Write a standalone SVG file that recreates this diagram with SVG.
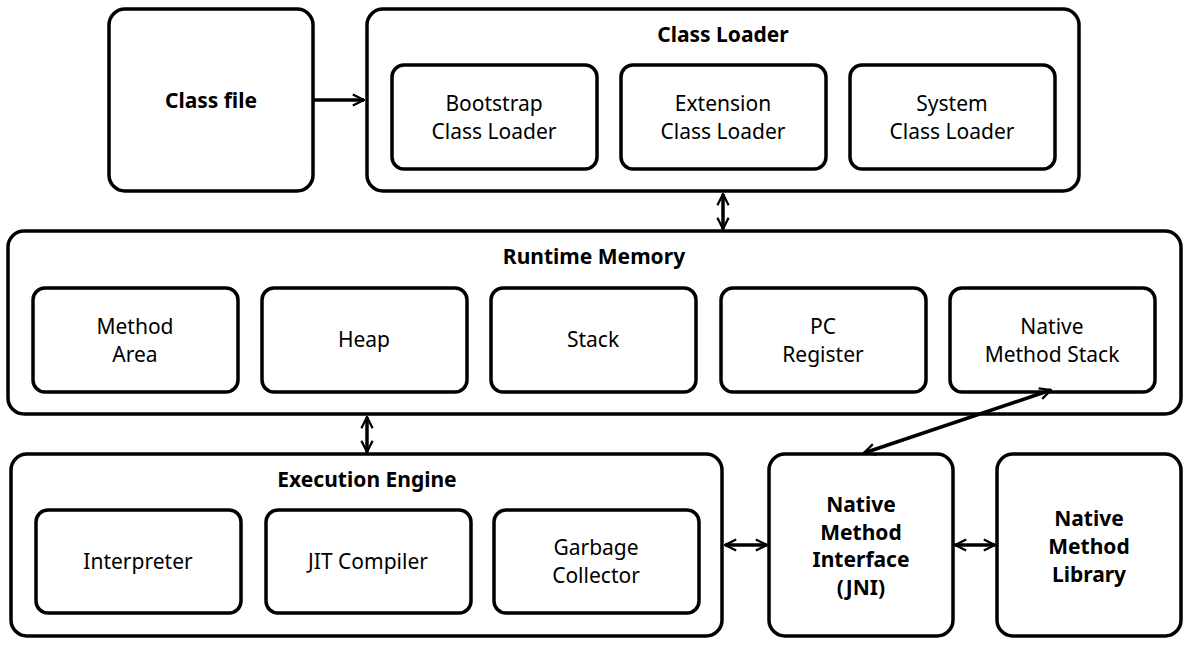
<svg xmlns="http://www.w3.org/2000/svg" width="1191" height="648" viewBox="0 0 1191 648">
<style>
.b{fill:#fff;stroke:#000;stroke-width:3.5}
text{font-family:"Noto Sans","Liberation Sans",sans-serif;font-size:21px;text-anchor:middle;fill:#000}
.t{font-weight:bold}
.c{fill:none;stroke:#000;stroke-width:3.5}
</style>
<defs>
<marker id="a" viewBox="0 0 10 10" refX="9" refY="5" markerWidth="4" markerHeight="4" orient="auto-start-reverse" markerUnits="strokeWidth">
<path d="M1,1 L9,5 L1,9" fill="none" stroke="#000" stroke-width="1.6"/>
</marker>
</defs>
<rect width="1191" height="648" fill="#fff"/>
<g id="classfile"><rect class="b" x="109" y="9" width="204" height="182" rx="16"/><text class="t" x="211" y="108">Class file</text></g>
<g id="classloader"><rect class="b" x="367" y="9" width="712" height="182" rx="16"/><text class="t" x="723" y="42">Class Loader</text>
<g id="bootstrap"><rect class="b" x="392" y="65" width="205" height="104" rx="12"/><text x="494" y="111">Bootstrap</text><text x="494" y="139">Class Loader</text></g>
<g id="extension"><rect class="b" x="621" y="65" width="205" height="104" rx="12"/><text x="723" y="111">Extension</text><text x="723" y="139">Class Loader</text></g>
<g id="system"><rect class="b" x="850" y="65" width="205" height="104" rx="12"/><text x="952" y="111">System</text><text x="952" y="139">Class Loader</text></g>
</g>
<g id="runtime"><rect class="b" x="8" y="231" width="1173" height="183" rx="16"/><text class="t" x="594" y="264">Runtime Memory</text>
<g id="method"><rect class="b" x="33" y="288" width="205" height="104" rx="12"/><text x="135" y="334">Method</text><text x="135" y="362">Area</text></g>
<g id="heap"><rect class="b" x="262" y="288" width="205" height="104" rx="12"/><text x="364" y="347">Heap</text></g>
<g id="stack"><rect class="b" x="491" y="288" width="205" height="104" rx="12"/><text x="593" y="347">Stack</text></g>
<g id="pc"><rect class="b" x="721" y="288" width="205" height="104" rx="12"/><text x="823" y="334">PC</text><text x="823" y="362">Register</text></g>
<g id="nms"><rect class="b" x="950" y="288" width="205" height="104" rx="12"/><text x="1052" y="334">Native</text><text x="1052" y="362">Method Stack</text></g>
</g>
<g id="exec"><rect class="b" x="11" y="454" width="711" height="182" rx="16"/><text class="t" x="367" y="487">Execution Engine</text>
<g id="interp"><rect class="b" x="36" y="510" width="205" height="103" rx="12"/><text x="138" y="569">Interpreter</text></g>
<g id="jit"><rect class="b" x="266" y="510" width="205" height="103" rx="12"/><text x="368" y="569">JIT Compiler</text></g>
<g id="gc"><rect class="b" x="494" y="510" width="205" height="103" rx="12"/><text x="596" y="555">Garbage</text><text x="596" y="583">Collector</text></g>
</g>
<g id="jni"><rect class="b" x="769" y="454" width="184" height="182" rx="16"/><text class="t" x="861" y="512">Native</text><text class="t" x="861" y="540">Method</text><text class="t" x="861" y="567">Interface</text><text class="t" x="861" y="595">(JNI)</text></g>
<g id="lib"><rect class="b" x="997" y="454" width="184" height="182" rx="16"/><text class="t" x="1089" y="526">Native</text><text class="t" x="1089" y="554">Method</text><text class="t" x="1089" y="582">Library</text></g>
<g id="connectors" class="c">
<line x1="313" y1="100" x2="364" y2="100" marker-end="url(#a)"/>
<line x1="723" y1="194" x2="723" y2="229" marker-start="url(#a)" marker-end="url(#a)"/>
<line x1="367" y1="417" x2="367" y2="452" marker-start="url(#a)" marker-end="url(#a)"/>
<line x1="1051" y1="390" x2="864" y2="453" marker-start="url(#a)" marker-end="url(#a)"/>
<line x1="725" y1="545" x2="767" y2="545" marker-start="url(#a)" marker-end="url(#a)"/>
<line x1="955" y1="545" x2="995" y2="545" marker-start="url(#a)" marker-end="url(#a)"/>
</g>
</svg>
